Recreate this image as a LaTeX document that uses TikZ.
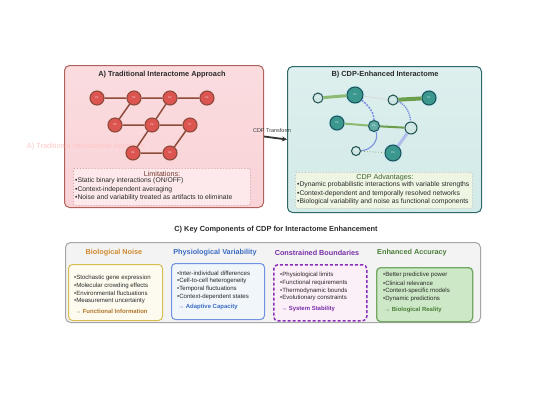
\documentclass[tikz,border=0pt]{standalone}
\usepackage{fontspec}
\setmainfont{Liberation Sans}
\usetikzlibrary{arrows.meta}
\definecolor{aFill}{HTML}{F9D3D7}
\definecolor{aBorder}{HTML}{B0625A}
\definecolor{aNode}{HTML}{DC5550}
\definecolor{aEdge}{HTML}{8E4A3A}
\definecolor{bFill}{HTML}{D2EAE8}
\definecolor{bBorder}{HTML}{2F6868}
\definecolor{bTeal}{HTML}{3A9890}
\definecolor{bLight}{HTML}{CDE6E3}
\definecolor{bDark}{HTML}{1F4F4F}
\definecolor{gEdge}{HTML}{6A9E4C}
\definecolor{gEdgeL}{HTML}{8DBA72}
\definecolor{blEdge}{HTML}{7C90E0}
\definecolor{limFill}{HTML}{FDE9EB}
\definecolor{advFill}{HTML}{EEF5E3}
\definecolor{cFill}{HTML}{F3F3F3}
\definecolor{noiseC}{HTML}{D08A30}
\definecolor{noiseB}{HTML}{D8BE50}
\definecolor{noiseF}{HTML}{FDFBF0}
\definecolor{varC}{HTML}{3A6CC4}
\definecolor{varB}{HTML}{7090E0}
\definecolor{varF}{HTML}{F1F6FB}
\definecolor{conC}{HTML}{7A2FA8}
\definecolor{conB}{HTML}{8A30B8}
\definecolor{conF}{HTML}{FCF0F8}
\definecolor{accC}{HTML}{4A7D38}
\definecolor{accB}{HTML}{72A862}
\definecolor{accF}{HTML}{CDE8C6}
\definecolor{txt}{HTML}{2A2A2A}
\tikzset{
  panel/.style={draw, rounded corners=5bp, line width=1bp, anchor=north west, inner sep=0},
  anode/.style={circle, fill=aNode, draw=aEdge, line width=1.1bp, minimum size=14bp, inner sep=0, text=white, font=\fontsize{2.5}{3}\selectfont},
  aedge/.style={draw=aEdge, line width=1.5bp},
  bnode/.style={circle, draw=bDark, line width=1bp, inner sep=0, text=white, font=\fontsize{2.5}{3}\selectfont},
  bteal/.style={bnode, fill=bTeal, preaction={draw=cyan!30, line width=2.5bp}},
  blight/.style={bnode, fill=bLight},
  ttl/.style={font=\fontsize{7.4}{8}\selectfont\bfseries},
  blt/.style={font=\fontsize{6.8}{8}\selectfont, text=txt, anchor=west, inner sep=0},
  cblt/.style={font=\fontsize{6.1}{7}\selectfont, text=txt, anchor=west, inner sep=0},
  chd/.style={font=\fontsize{7.3}{8}\selectfont\bfseries},
  cres/.style={font=\fontsize{6}{7}\selectfont\bfseries, anchor=west, inner sep=0},
  sub/.style={draw, rounded corners=4bp, anchor=north west, inner sep=0}
}
\begin{document}
\begin{tikzpicture}[x=1bp,y=-1bp]
\useasboundingbox (0,0) rectangle (550,409);
\fill[white] (0,0) rectangle (550,409);

% Panel A
\node[panel, draw=aBorder, top color=aFill!80!white, bottom color=aFill, minimum width=199bp, minimum height=142bp] (pa) at (64,65) {};
\node[ttl, text=txt] (ta) at (162,75) {A) Traditional Interactome Approach};
\node[text=red!22, font=\fontsize{7.4}{8}\selectfont] (ghost) at (86,147) {A) Traditional Interactome Approach};

\node[anode] (p1) at (97,98) {P1};
\node[anode] (p2) at (134,98) {P2};
\node[anode] (p3) at (170,98) {P3};
\node[anode] (p4) at (207,98) {P4};
\node[anode] (p5) at (115,125) {P5};
\node[anode] (p6) at (152,125) {P6};
\node[anode] (p7) at (190,125) {P7};
\node[anode] (p8) at (133,153) {P8};
\node[anode] (p9) at (170,153) {P9};
\path[aedge] (p1) -- (p2) (p2) -- (p3) (p3) -- (p4) (p2) -- (p5) (p3) -- (p6)
  (p5) -- (p6) (p6) -- (p7) (p6) -- (p8) (p7) -- (p9) (p8) -- (p9);

\node[panel, draw=aBorder!80, fill=limFill, dotted, line width=0.7bp, rounded corners=2bp, minimum width=177bp, minimum height=37bp] (lim) at (73,168) {};
\node[font=\fontsize{7.2}{8}\selectfont, text=aEdge!80!black] (limt) at (162,173.5) {Limitations:};
\node[blt] (l1) at (75,181) {•Static binary interactions (ON/OFF)};
\node[blt] (l2) at (75,189.5) {•Context-independent averaging};
\node[blt] (l3) at (75,198) {•Noise and variability treated as artifacts to eliminate};

% Panel B
\node[panel, draw=bBorder, top color=bFill!75!white, bottom color=bFill, minimum width=194bp, minimum height=146bp] (pb) at (287,66) {};
\node[ttl, text=txt] (tb) at (385,75) {B) CDP-Enhanced Interactome};

\node[blight, minimum size=10bp] (n1) at (318,98) {P1};
\node[bteal, minimum size=16bp] (n2) at (355,95) {P2};
\node[blight, minimum size=10bp] (n3) at (393,100) {P3};
\node[bteal, minimum size=14bp] (n4) at (429,98) {P4};
\node[bteal, minimum size=14bp] (n5) at (337,123) {P5};
\node[bteal, minimum size=11bp, fill=bTeal!80!white] (n6) at (374,126) {P6};
\node[blight, minimum size=12bp] (n7) at (411,128) {P7};
\node[blight, minimum size=9bp] (n8) at (356,151) {P8};
\node[bteal, minimum size=16bp] (n9) at (393,153) {P9};

\path[draw=gEdgeL, line width=3bp] (n1) -- (n2);
\path[draw=gray!30, line width=0.8bp] (n2) -- (n3);
\path[draw=gEdge, line width=4bp] (n3) -- (n4);
\path[draw=gEdgeL, line width=2bp] (n5) -- (n6);
\path[draw=gEdge, line width=2bp] (n6) -- (n7);
\path[draw=blEdge, line width=1.5bp, dash pattern=on 2bp off 1.2bp] (n2) .. controls (368,105) and (374,112) .. (n6);
\path[draw=blEdge, line width=1.5bp, dash pattern=on 1.2bp off 1bp] (n3) .. controls (405,104) and (410,112) .. (n7);
\path[draw=blEdge, line width=1.1bp] (n6) .. controls (379,140) and (372,150) .. (n8);
\path[draw=blEdge!60, line width=3bp] (n7) -- (n9);
\path[draw=gEdgeL!70!gray, line width=0.9bp, dotted] (n8) -- (n9);

\node[panel, draw=gray!60, fill=advFill, dotted, line width=0.7bp, rounded corners=2bp, minimum width=177bp, minimum height=36bp] (adv) at (295,172) {};
\node[font=\fontsize{7.2}{8}\selectfont, text=accC!80!black] (advt) at (385,177.5) {CDP Advantages:};
\node[blt] (b1) at (297,185) {•Dynamic probabilistic interactions with variable strengths};
\node[blt] (b2) at (297,193.5) {•Context-dependent and temporally resolved networks};
\node[blt] (b3) at (297,202) {•Biological variability and noise as functional components};

% Transform arrow
\draw[-{Stealth[length=5bp,width=5bp]}, draw=gray!40!black, line width=1.8bp] (pa.east) -- (pb.west);
\node[font=\fontsize{5.5}{6}\selectfont, text=gray!40!black] (tr) at (272,130.5) {CDP Transform};

% Section C
\node[ttl, text=txt] (tc) at (276,230) {C) Key Components of CDP for Interactome Enhancement};
\node[panel, draw=gray!70, fill=cFill, minimum width=415bp, minimum height=80bp] (pc) at (65,242) {};

\node[chd, text=noiseC] (h1) at (114,253) {Biological Noise};
\node[chd, text=varC] (h2) at (215,253) {Physiological Variability};
\node[chd, text=conC] (h3) at (317,252.5) {Constrained Boundaries};
\node[chd, text=accC] (h4) at (412,252.5) {Enhanced Accuracy};

\node[sub, draw=noiseB, fill=noiseF, line width=1bp, minimum width=94bp, minimum height=56bp] (s1) at (68,264) {};
\node[sub, draw=varB, fill=varF, line width=1bp, minimum width=93bp, minimum height=56bp] (s2) at (171,263) {};
\node[sub, draw=conB, fill=conF, line width=1.5bp, dash pattern=on 3bp off 2bp, minimum width=93bp, minimum height=56bp] (s3) at (273,264) {};
\node[sub, draw=accB, fill=accF, line width=1.3bp, minimum width=96bp, minimum height=54bp] (s4) at (376,267) {};

\node[cblt] (a1) at (74,278) {•Stochastic gene expression};
\node[cblt] (a2) at (74,285.5) {•Molecular crowding effects};
\node[cblt] (a3) at (74,293) {•Environmental fluctuations};
\node[cblt] (a4) at (74,301) {•Measurement uncertainty};
\node[cres, text=noiseC!85!black] (a5) at (75,311.5) {→ Functional Information};

\node[cblt] (v1) at (177,273) {•Inter-individual differences};
\node[cblt] (v2) at (177,281) {•Cell-to-cell heterogeneity};
\node[cblt] (v3) at (177,288.5) {•Temporal fluctuations};
\node[cblt] (v4) at (177,296.5) {•Context-dependent states};
\node[cres, text=varC] (v5) at (178,307) {→ Adaptive Capacity};

\node[cblt] (c1) at (280,274.5) {•Physiological limits};
\node[cblt] (c2) at (280,282.5) {•Functional requirements};
\node[cblt] (c3) at (280,290.5) {•Thermodynamic bounds};
\node[cblt] (c4) at (280,298) {•Evolutionary constraints};
\node[cres, text=conC] (c5) at (281,309) {→ System Stability};

\node[cblt] (e1) at (383,275) {•Better predictive power};
\node[cblt] (e2) at (383,283) {•Clinical relevance};
\node[cblt] (e3) at (383,291) {•Context-specific models};
\node[cblt] (e4) at (383,299) {•Dynamic predictions};
\node[cres, text=accC] (e5) at (384,310) {→ Biological Reality};
\end{tikzpicture}
\end{document}
